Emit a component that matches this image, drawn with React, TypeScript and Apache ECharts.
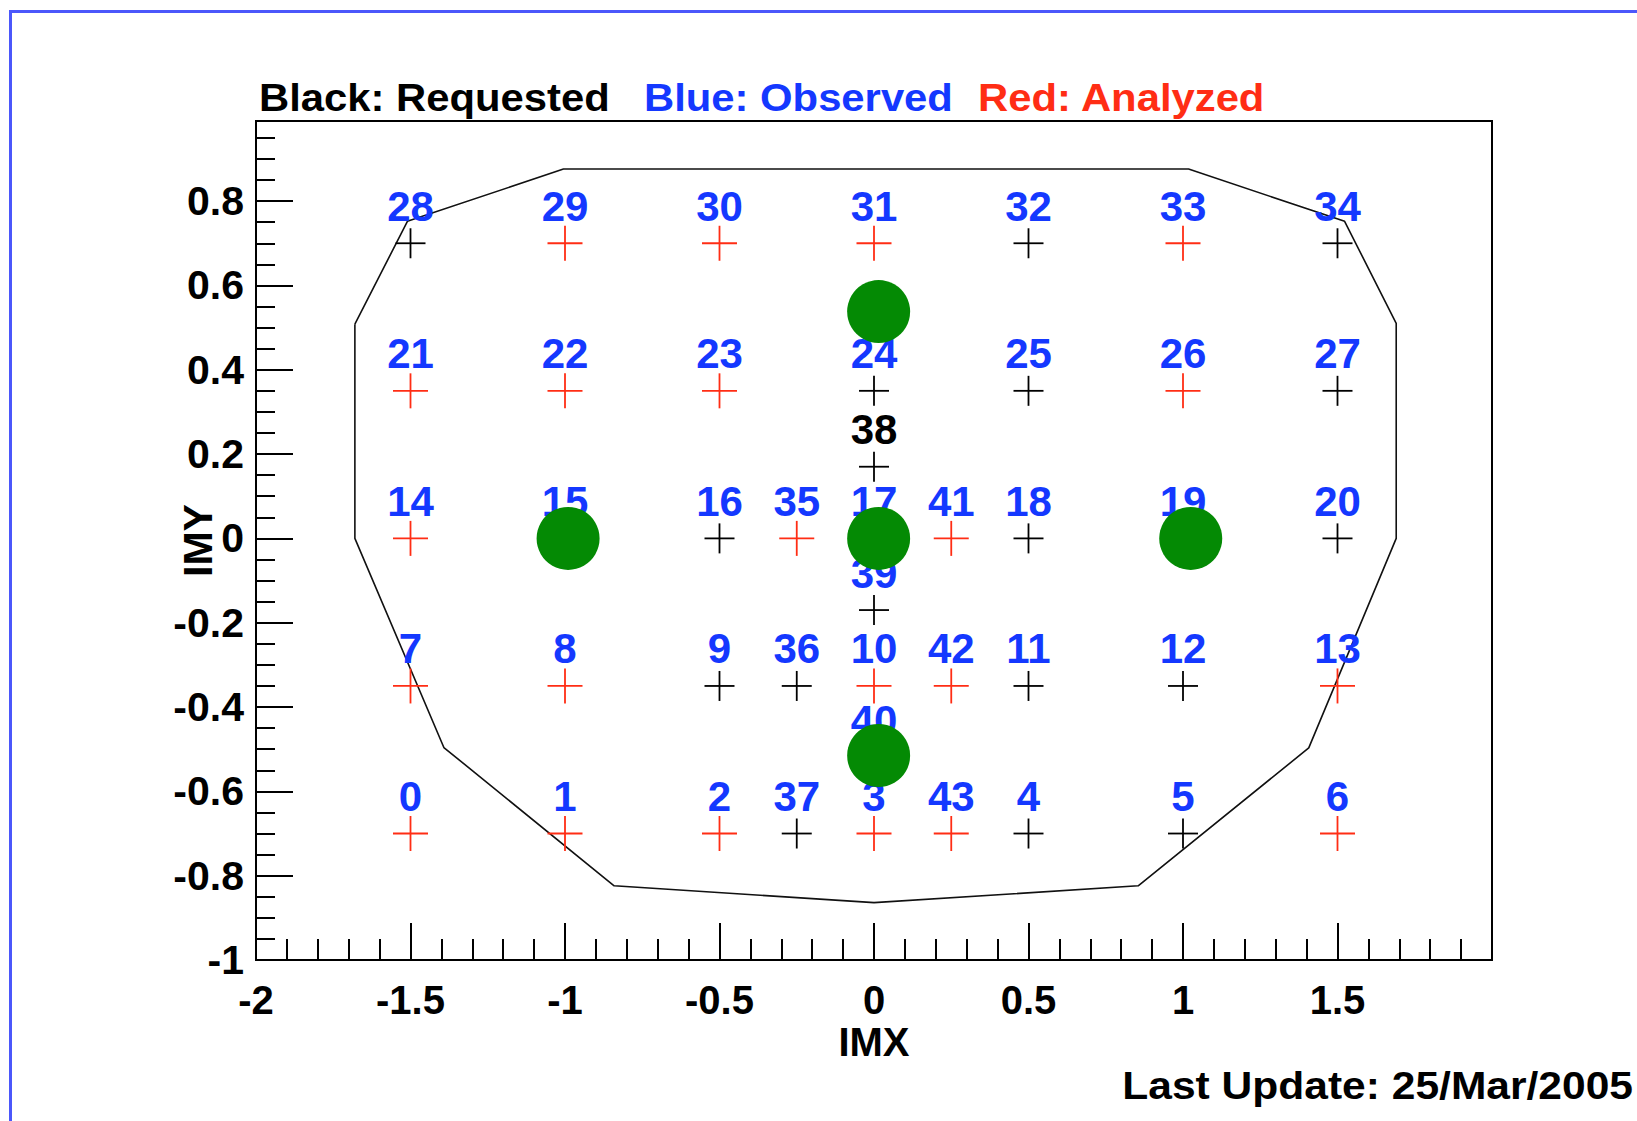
import React, { useEffect, useRef } from 'react';
import * as echarts from 'echarts';

const FONT = '"Liberation Sans", Arial, Helvetica, sans-serif';

// ---- data ----
const titleParts = ['Black: Requested', 'Blue: Observed', 'Red: Analyzed'];
const footerText = 'Last Update: 25/Mar/2005';

// pointings: id, IMX, IMY, cross kind (R = requested/black, A = analyzed/red), observed label (blue)
const pointIds = [
  28, 29, 30, 31, 32, 33, 34,
  21, 22, 23, 24, 25, 26, 27,
  14, 15, 16, 35, 17, 41, 18, 19, 20,
  7, 8, 9, 36, 10, 42, 11, 12, 13,
  0, 1, 2, 37, 3, 43, 4, 5, 6,
  38, 39, 40,
];
const pointX = [
  -1.5, -1, -0.5, 0, 0.5, 1, 1.5,
  -1.5, -1, -0.5, 0, 0.5, 1, 1.5,
  -1.5, -1, -0.5, -0.25, 0, 0.25, 0.5, 1, 1.5,
  -1.5, -1, -0.5, -0.25, 0, 0.25, 0.5, 1, 1.5,
  -1.5, -1, -0.5, -0.25, 0, 0.25, 0.5, 1, 1.5,
  0, 0, 0,
];
const pointY = [
  0.7, 0.7, 0.7, 0.7, 0.7, 0.7, 0.7,
  0.35, 0.35, 0.35, 0.35, 0.35, 0.35, 0.35,
  0, 0, 0, 0, 0, 0, 0, 0, 0,
  -0.35, -0.35, -0.35, -0.35, -0.35, -0.35, -0.35, -0.35, -0.35,
  -0.7, -0.7, -0.7, -0.7, -0.7, -0.7, -0.7, -0.7, -0.7,
  0.17, -0.17, -0.52,
];
const pointKind = [
  'R', 'A', 'A', 'A', 'R', 'A', 'R',
  'A', 'A', 'A', 'R', 'R', 'A', 'R',
  'A', 'A', 'R', 'A', 'A', 'A', 'R', 'A', 'R',
  'A', 'A', 'R', 'R', 'A', 'A', 'R', 'R', 'A',
  'A', 'A', 'A', 'R', 'A', 'A', 'R', 'R', 'A',
  'R', 'R', 'A',
];
const pointObserved = [
  1, 1, 1, 1, 1, 1, 1,
  1, 1, 1, 1, 1, 1, 1,
  1, 1, 1, 1, 1, 1, 1, 1, 1,
  1, 1, 1, 1, 1, 1, 1, 1, 1,
  1, 1, 1, 1, 1, 1, 1, 1, 1,
  0, 1, 1,
];

// observed (green) positions
const obsX = [-0.99, 0.015, 1.025, 0.015, 0.015];
const obsY = [0, 0, 0, 0.538, -0.515];

// field-of-view outline
const polyX = [-1.68, -1.51, -1.005, 1.018, 1.523, 1.69, 1.69, 1.407, 0.855, 0, -0.841, -1.392, -1.68, -1.68];
const polyY = [0.508, 0.752, 0.876, 0.876, 0.752, 0.51, 0, -0.497, -0.824, -0.864, -0.824, -0.496, 0, 0.508];

const xLabelValues = [-2, -1.5, -1, -0.5, 0, 0.5, 1, 1.5];
const yTickValues = [-1, -0.8, -0.6, -0.4, -0.2, 0, 0.2, 0.4, 0.6, 0.8];

// ---- styles ----
const BLUE = '#1438ff';
const RED = '#ff2d14';
const GREEN = '#048a04';
const BLACK = '#000000';

export default function App() {
  const ref = useRef<HTMLDivElement>(null);

  useEffect(() => {
    if (!ref.current) return;
    const chart = echarts.init(ref.current, null, { renderer: 'svg' });

    const crossData = pointX.map((x, i) => [x, pointY[i]]);
    const polyData = polyX.map((x, i) => [x, polyY[i]]);
    const obsData = obsX.map((x, i) => [x, obsY[i]]);

    const axisLabelStyle = {
      color: BLACK,
      fontSize: 41,
      fontWeight: 'bold',
      fontFamily: FONT,
    };

    const option: any = {
      animation: false,
      backgroundColor: '#ffffff',
      tooltip: { show: false },
      grid: {
        left: 256,
        top: 121,
        right: 145,
        bottom: 161,
        show: true,
        borderColor: BLACK,
        borderWidth: 2,
        backgroundColor: 'transparent',
        containLabel: false,
        outerBoundsMode: 'none',
      },
      xAxis: {
        type: 'value',
        min: -2,
        max: 2,
        interval: 0.5,
        position: 'bottom',
        name: 'IMX',
        nameLocation: 'middle',
        nameGap: 67,
        nameMoveOverlap: false,
        nameTextStyle: { color: BLACK, fontSize: 40, lineHeight: 30, fontWeight: 'bold', fontFamily: FONT },
        axisLine: { onZero: false, lineStyle: { color: BLACK, width: 2 } },
        axisTick: { inside: true, length: 37, lineStyle: { color: BLACK, width: 2 } },
        minorTick: { show: true, splitNumber: 5, length: 21, lineStyle: { color: BLACK, width: 2 } },
        axisLabel: { ...axisLabelStyle, fontSize: 40, lineHeight: 30, margin: 25, customValues: xLabelValues },
        splitLine: { show: false },
        minorSplitLine: { show: false },
      },
      yAxis: {
        type: 'value',
        min: -1,
        max: 0.99,
        interval: 0.2,
        position: 'left',
        name: 'IMY',
        nameLocation: 'middle',
        nameGap: 38,
        nameMoveOverlap: false,
        nameTextStyle: { color: BLACK, fontSize: 41, fontWeight: 'bold', fontFamily: FONT },
        axisLine: { onZero: false, lineStyle: { color: BLACK, width: 2 } },
        axisTick: { inside: true, length: 37, customValues: yTickValues, lineStyle: { color: BLACK, width: 2 } },
        minorTick: { show: true, splitNumber: 4, length: 19, lineStyle: { color: BLACK, width: 2 } },
        axisLabel: { ...axisLabelStyle, margin: 12, customValues: yTickValues },
        splitLine: { show: false },
        minorSplitLine: { show: false },
      },
      graphic: [
        {
          type: 'rect',
          silent: true,
          shape: { x: 10.5, y: 11.5, width: 1700, height: 1200 },
          style: { fill: 'none', stroke: '#4b57fb', lineWidth: 3 },
        },
        {
          type: 'text', x: 259, y: 98, scaleX: 1.1, silent: true,
          style: { text: titleParts[0], fill: BLACK, fontSize: 38, fontWeight: 'bold', fontFamily: FONT, align: 'left', verticalAlign: 'middle' },
        },
        {
          type: 'text', x: 644, y: 98, scaleX: 1.1, silent: true,
          style: { text: titleParts[1], fill: BLUE, fontSize: 38, fontWeight: 'bold', fontFamily: FONT, align: 'left', verticalAlign: 'middle' },
        },
        {
          type: 'text', x: 978, y: 98, scaleX: 1.1, silent: true,
          style: { text: titleParts[2], fill: RED, fontSize: 38, fontWeight: 'bold', fontFamily: FONT, align: 'left', verticalAlign: 'middle' },
        },
        {
          type: 'text', x: 1633, y: 1086, scaleX: 1.12, silent: true,
          style: { text: footerText, fill: BLACK, fontSize: 38, fontWeight: 'bold', fontFamily: FONT, align: 'right', verticalAlign: 'middle' },
        },
      ],
      series: [
        {
          type: 'line',
          data: polyData,
          symbol: 'none',
          showSymbol: false,
          silent: true,
          z: 1,
          lineStyle: { color: '#111111', width: 1.6 },
        },
        {
          type: 'custom',
          silent: true,
          z: 2,
          data: crossData,
          encode: { x: 0, y: 1 },
          renderItem: (params: any, api: any) => {
            const i = params.dataIndex;
            const c = api.coord([api.value(0), api.value(1)]);
            const isRed = pointKind[i] === 'A';
            const half = isRed ? 17.5 : 15;
            const color = isRed ? RED : BLACK;
            return {
              type: 'group',
              children: [
                { type: 'line', shape: { x1: c[0] - half, y1: c[1], x2: c[0] + half, y2: c[1] }, style: { stroke: color, lineWidth: 1.8 } },
                { type: 'line', shape: { x1: c[0], y1: c[1] - half, x2: c[0], y2: c[1] + half }, style: { stroke: color, lineWidth: 1.8 } },
                {
                  type: 'text',
                  x: c[0],
                  y: c[1] - 37,
                  style: {
                    text: String(pointIds[i]),
                    fill: pointObserved[i] ? BLUE : BLACK,
                    fontSize: 42,
                    fontWeight: 'bold',
                    fontFamily: FONT,
                    align: 'center',
                    verticalAlign: 'middle',
                  },
                },
              ],
            };
          },
        },
        {
          type: 'scatter',
          data: obsData,
          symbol: 'circle',
          symbolSize: 63,
          silent: true,
          z: 3,
          itemStyle: { color: GREEN, opacity: 1 },
        },
      ],
    };

    chart.setOption(option);
    return () => chart.dispose();
  }, []);

  return (
    <div
      ref={ref}
      style={{ position: 'absolute', left: 0, top: 0, width: 1637, height: 1121, background: '#fff' }}
    />
  );
}
